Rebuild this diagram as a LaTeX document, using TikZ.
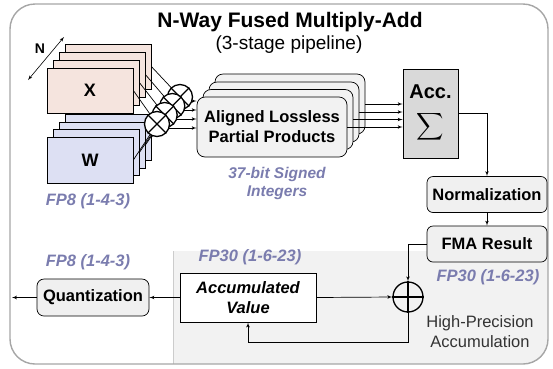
\documentclass[tikz,border=0pt]{standalone}
\usepackage{fontspec}
\setmainfont{Liberation Sans}
\usetikzlibrary{arrows}
\definecolor{xfill}{RGB}{245,228,222}
\definecolor{wfill}{RGB}{221,224,243}
\definecolor{fmtblue}{RGB}{122,124,174}
\definecolor{accbg}{RGB}{242,242,242}
\definecolor{framegray}{RGB}{166,166,166}
\definecolor{boxgray}{RGB}{240,240,240}
\definecolor{sumgray}{RGB}{217,217,217}

\begin{document}
\begin{tikzpicture}[x=1pt,y=-1pt,>=latex',line width=0.7pt,
    big/.style={font=\bfseries\fontsize{16.5}{20}\selectfont},
    xbox/.style={draw,fill=xfill,minimum width=86,minimum height=45,font=\bfseries\fontsize{18}{20}\selectfont},
    wbox/.style={draw,fill=wfill,minimum width=86,minimum height=46,font=\bfseries\fontsize{18}{20}\selectfont},
    mult/.style={draw,circle,fill=white,minimum size=25,inner sep=0pt,line width=1.3pt},
    ppbox/.style={draw,fill=accbg,rounded corners=8,minimum width=150,minimum height=60,align=center,big},
    stagebox/.style={draw,fill=boxgray,rounded corners=6,minimum width=120,minimum height=36,big},
    fmt/.style={text=fmtblue,align=center,font=\bfseries\itshape\fontsize{16.5}{20}\selectfont}]

    \useasboundingbox (0,0) rectangle (553,368);

    % frame and accumulation area
    \begin{scope}
        \clip[rounded corners=25] (10,4) rectangle (548,364);
        \fill[accbg] (173,251) rectangle (548,364);
    \end{scope}
    \draw[black!20] (173,251) -- (173,364);
    \draw[framegray,line width=1.4pt,rounded corners=25] (10,4) rectangle (548,364);

    \node[font=\bfseries\fontsize{21}{24}\selectfont] (title) at (290,22) {N-Way Fused Multiply-Add};
    \node[font=\fontsize{19}{23}\selectfont] (subtitle) at (289,45) {(3-stage pipeline)};

    % input stacks
    \node[xbox] (x3) at (108,66.5) {};
    \node[xbox] (x2) at (102,74.5) {};
    \node[xbox] (x1) at (96,82.5) {};
    \node[xbox] (x0) at (90,90.5) {X};

    \node[wbox] (w3) at (108,137.5) {};
    \node[wbox] (w2) at (102,145) {};
    \node[wbox] (w1) at (96,152.5) {};
    \node[wbox] (w0) at (90,160) {W};

    \coordinate (n1) at (28,80);
    \coordinate (n2) at (64,37);
    \draw[<->,line width=0.6pt] (n1) -- (n2);
    \node[font=\bfseries\fontsize{14}{16}\selectfont] (nlabel) at (40,49) {N};

    % partial products
    \node[ppbox] (pp3) at (290,104) {};
    \node[ppbox] (pp2) at (284,112) {};
    \node[ppbox] (pp1) at (278,119.5) {};
    \node[ppbox] (pp0) at (272,127) {Aligned Lossless\\Partial Products};

    % multipliers
    \coordinate (m3) at (180,97);
    \coordinate (m2) at (172.3,106);
    \coordinate (m1) at (164.7,115);
    \coordinate (m0) at (157,124);

    \draw[->] (x3.east) -- (m3);
    \draw[->] (x2.east) -- (m2);
    \draw[->] (x1.east) -- (m1);
    \draw[->] (x0.east) -- (m0);
    \draw (w3.east) -- (m3);
    \draw (w2.east) -- (m2);
    \draw (w1.east) -- (m1);
    \draw (w0.east) -- (m0);
    \draw[->] (m3) ++(0,4) -- (pp0.west |- 0,101);
    \draw[->] (m2) ++(0,4) -- (pp0.west |- 0,110);
    \draw[->] (m1) ++(0,4) -- (pp0.west |- 0,119);
    \draw[->] (m0) ++(0,4) -- (pp0.west |- 0,128);

    \node[mult] (mul3) at (m3) {};
    \draw[line width=1.3pt] (mul3.north west) -- (mul3.south east) (mul3.north east) -- (mul3.south west);
    \node[mult] (mul2) at (m2) {};
    \draw[line width=1.3pt] (mul2.north west) -- (mul2.south east) (mul2.north east) -- (mul2.south west);
    \node[mult] (mul1) at (m1) {};
    \draw[line width=1.3pt] (mul1.north west) -- (mul1.south east) (mul1.north east) -- (mul1.south west);
    \node[mult] (mul0) at (m0) {};
    \draw[line width=1.3pt] (mul0.north west) -- (mul0.south east) (mul0.north east) -- (mul0.south west);

    % accumulator
    \node[draw,fill=sumgray,minimum width=55,minimum height=89,align=center,
        font=\bfseries\fontsize{20}{24}\selectfont] (acc) at (430.5,113.5)
        {Acc.\\[12pt]\scalebox{1.9}{$\displaystyle\sum$}};

    \draw[->] (pp3.east) -- (pp3.east -| acc.west);
    \draw[->] (pp2.east) -- (pp2.east -| acc.west);
    \draw[->] (pp1.east) -- (pp1.east -| acc.west);
    \draw[->] (pp0.east) -- (pp0.east -| acc.west);

    \node[stagebox] (norm) at (487,194.5) {Normalization};
    \node[stagebox] (fma) at (487,244) {FMA Result};
    \draw[->] (acc.east) -| (norm.north);
    \draw[->] (norm) -- (fma);

    % high-precision accumulation
    \node[draw,circle,minimum size=30,inner sep=0pt,line width=1.3pt] (add) at (408,297) {};
    \draw[line width=1.3pt] (add.north) -- (add.south) (add.west) -- (add.east);
    \node[draw,fill=white,line width=1pt,minimum width=136,minimum height=49,align=center,
        font=\bfseries\itshape\fontsize{16.5}{20}\selectfont] (accv) at (248,297.5) {Accumulated\\Value};
    \node[stagebox,minimum width=112,minimum height=37,rounded corners=7] (quant) at (93,297.5) {Quantization};
    \coordinate (out) at (12,297.5);

    \draw[->] (fma.west) -| (add.north);
    \draw[->] (accv.east) -- (add.west);
    \draw[->] (add.south) -- ++(0,30) -| (accv.south);
    \draw[->] (accv.west) -- (quant.east);
    \draw[->] (quant.west) -- (out);

    % number formats
    \node[fmt] (fmtin) at (88,201) {FP8 (1-4-3)};
    \node[fmt,font=\bfseries\itshape\fontsize{15.5}{18}\selectfont] (fmtpp) at (277,183) {37-bit Signed\\Integers};
    \node[fmt] (fmtout) at (88,262) {FP8 (1-4-3)};
    \node[fmt] (fmtacc) at (250,257) {FP30 (1-6-23)};
    \node[fmt] (fmtfma) at (488,277) {FP30 (1-6-23)};
    \node[align=center,text=black!80,font=\fontsize{16.5}{20}\selectfont] (hpa) at (480,332) {High-Precision\\Accumulation};
\end{tikzpicture}
\end{document}
